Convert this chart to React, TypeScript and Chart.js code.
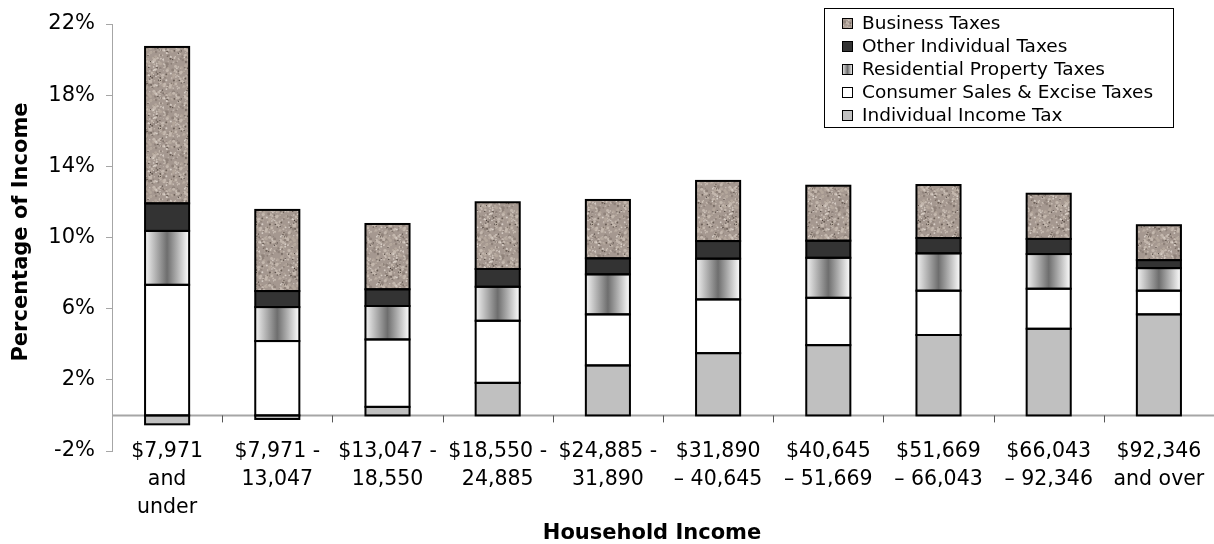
import React, { useEffect, useRef } from 'react';
import { Chart, registerables } from 'chart.js';

Chart.register(...registerables);

const categories: string[][] = [
  ['$7,971', 'and', 'under'],
  ['$7,971 -', '13,047'],
  ['$13,047 -', '18,550'],
  ['$18,550 -', '24,885'],
  ['$24,885 -', '31,890'],
  ['$31,890', '\u2013 40,645'],
  ['$40,645', '\u2013 51,669'],
  ['$51,669', '\u2013 66,043'],
  ['$66,043', '\u2013 92,346'],
  ['$92,346', 'and over'],
];

const individualIncomeTax = [-0.5, -0.2, 0.48, 1.83, 2.81, 3.5, 3.95, 4.52, 4.87, 5.68];
const consumerSalesExcise = [7.34, 4.18, 3.79, 3.49, 2.87, 3.02, 2.66, 2.49, 2.25, 1.33];
const residentialProperty = [3.03, 1.91, 1.88, 1.91, 2.25, 2.29, 2.25, 2.1, 1.95, 1.27];
const otherIndividual = [1.55, 0.9, 0.94, 1.0, 0.9, 0.99, 0.96, 0.86, 0.85, 0.45];
const businessTaxes = [8.79, 4.56, 3.67, 3.75, 3.28, 3.38, 3.09, 2.98, 2.54, 1.96];

const yMin = -2;
const yMax = 22;
const yStep = 4;

const FONT = '"DejaVu Sans", Verdana, sans-serif';

function makeGranite(): CanvasPattern | string {
  const size = 48;
  const c = document.createElement('canvas');
  c.width = size;
  c.height = size;
  const g = c.getContext('2d');
  if (!g) return '#a69a90';
  g.fillStyle = '#a59890';
  g.fillRect(0, 0, size, size);
  let s = 424242;
  const rnd = () => {
    s = (s * 1103515245 + 12345) & 0x7fffffff;
    return s / 0x7fffffff;
  };
  const blob = (x: number, y: number, r: number) => {
    for (const dx of [-size, 0, size]) {
      for (const dy of [-size, 0, size]) {
        g.beginPath();
        g.arc(x + dx, y + dy, r, 0, Math.PI * 2);
        g.fill();
      }
    }
  };
  for (let i = 0; i < 260; i++) {
    const x = rnd() * size, y = rnd() * size, r = 0.5 + rnd() * 1.1;
    const t = rnd();
    g.fillStyle = t < 0.5 ? '#c4b8ae' : t < 0.8 ? '#b4a79c' : '#8f827a';
    blob(x, y, r);
  }
  for (let i = 0; i < 90; i++) {
    const x = rnd() * size, y = rnd() * size, r = 0.4 + rnd() * 0.7;
    g.fillStyle = rnd() < 0.7 ? '#d8cfc7' : '#6a5e56';
    blob(x, y, r);
  }
  for (let i = 0; i < 26; i++) {
    const x = rnd() * size, y = rnd() * size;
    g.fillStyle = '#4a403a';
    blob(x, y, 0.6);
  }
  return g.createPattern(c, 'repeat') || '#a69a90';
}

function residentialGradient(ctx2d: CanvasRenderingContext2D, x0: number, x1: number) {
  const gr = ctx2d.createLinearGradient(x0, 0, x1, 0);
  gr.addColorStop(0, '#f2f2f2');
  gr.addColorStop(0.5, '#6e6e6e');
  gr.addColorStop(1, '#ffffff');
  return gr;
}

export default function App() {
  const ref = useRef<HTMLCanvasElement | null>(null);

  useEffect(() => {
    if (!ref.current) return;
    const granite = makeGranite();
    const barFrac = 0.4;

    const resBg = (c: any) => {
      const chart = c.chart;
      const xs = chart.scales && chart.scales.x;
      if (!xs || c.dataIndex === undefined) return '#999999';
      const cx = xs.getPixelForValue(c.dataIndex);
      const w = (xs.width / categories.length) * barFrac;
      if (!isFinite(cx) || !isFinite(w) || w <= 0) return '#999999';
      return residentialGradient(chart.ctx, cx - w / 2, cx + w / 2);
    };

    const decor = {
      id: 'decor',
      beforeDatasetsDraw(chart: any) {
        const { ctx, chartArea, scales } = chart;
        const y0 = scales.y.getPixelForValue(0);
        ctx.save();
        ctx.strokeStyle = '#a6a6a6';
        ctx.lineWidth = 2;
        ctx.beginPath();
        ctx.moveTo(chartArea.left, y0);
        ctx.lineTo(chartArea.right, y0);
        ctx.stroke();
        ctx.strokeStyle = '#555555';
        ctx.lineWidth = 1;
        const n = categories.length;
        const step = (chartArea.right - chartArea.left) / n;
        ctx.beginPath();
        for (let i = 1; i < n; i++) {
          const x = Math.round(chartArea.left + i * step) + 0.5;
          ctx.moveTo(x, y0);
          ctx.lineTo(x, y0 + 7);
        }
        ctx.stroke();
        ctx.restore();
      },
      afterDatasetsDraw(chart: any) {
        const { ctx } = chart;
        ctx.save();
        ctx.strokeStyle = '#000';
        ctx.lineWidth = 2;
        chart.data.datasets.forEach((_ds: any, i: number) => {
          const meta = chart.getDatasetMeta(i);
          meta.data.forEach((el: any) => {
            const p = el.getProps(['x', 'y', 'base', 'width'], true);
            const top = Math.min(p.y, p.base);
            const h = Math.abs(p.base - p.y);
            ctx.strokeRect(p.x - p.width / 2, top, p.width, h);
          });
        });
        ctx.restore();
      },
      afterDraw(chart: any) {
        const { ctx, chartArea, scales } = chart;
        ctx.save();
        ctx.fillStyle = '#000';
        ctx.font = `20.5px ${FONT}`;
        ctx.textAlign = 'center';
        ctx.textBaseline = 'middle';
        categories.forEach((lines, i) => {
          const x = scales.x.getPixelForValue(i);
          lines.forEach((ln, j) => {
            ctx.fillText(ln, x, chartArea.bottom + 1 + j * 28);
          });
        });
        ctx.restore();

        ctx.save();
        ctx.fillStyle = '#000';
        ctx.font = `bold 21px ${FONT}`;
        ctx.textAlign = 'center';
        ctx.textBaseline = 'middle';
        ctx.fillText('Household Income', 652, 534);
        ctx.translate(22, 232);
        ctx.rotate(-Math.PI / 2);
        ctx.fillText('Percentage of Income', 0, 0);
        ctx.restore();

        ctx.save();
        const lx = 824, ly = 8, lw = 349, lh = 119;
        ctx.fillStyle = '#ffffff';
        ctx.fillRect(lx, ly, lw, lh);
        ctx.strokeStyle = '#000';
        ctx.lineWidth = 1;
        ctx.strokeRect(lx + 0.5, ly + 0.5, lw, lh);
        const items: { label: string; fill: any }[] = [
          { label: 'Business Taxes', fill: granite },
          { label: 'Other Individual Taxes', fill: '#333333' },
          { label: 'Residential Property Taxes', fill: 'grad' },
          { label: 'Consumer Sales & Excise Taxes', fill: '#ffffff' },
          { label: 'Individual Income Tax', fill: '#c0c0c0' },
        ];
        ctx.font = `18.5px ${FONT}`;
        ctx.textAlign = 'left';
        ctx.textBaseline = 'middle';
        items.forEach((it, i) => {
          const cy = 23 + i * 23;
          const sx = 842, sy = Math.round(cy - 5), ss = 11;
          ctx.fillStyle = it.fill === 'grad' ? residentialGradient(ctx, sx, sx + ss) : it.fill;
          ctx.fillRect(sx, sy, ss, ss);
          ctx.strokeStyle = '#000';
          ctx.lineWidth = 1;
          ctx.strokeRect(sx + 0.5, sy + 0.5, ss - 1, ss - 1);
          ctx.fillStyle = '#000';
          ctx.fillText(it.label, 862, cy + 1);
        });
        ctx.restore();
      },
    };

    const common = {
      borderWidth: 0,
      barPercentage: barFrac,
      categoryPercentage: 1,
    };

    const chart = new Chart(ref.current, {
      type: 'bar',
      data: {
        labels: categories,
        datasets: [
          { label: 'Individual Income Tax', data: individualIncomeTax, backgroundColor: '#c0c0c0', ...common },
          { label: 'Consumer Sales & Excise Taxes', data: consumerSalesExcise, backgroundColor: '#ffffff', ...common },
          { label: 'Residential Property Taxes', data: residentialProperty, backgroundColor: resBg as any, ...common },
          { label: 'Other Individual Taxes', data: otherIndividual, backgroundColor: '#333333', ...common },
          { label: 'Business Taxes', data: businessTaxes, backgroundColor: granite as any, ...common },
        ],
      },
      options: {
        responsive: false,
        animation: false,
        layout: { padding: { top: 24, left: 0, right: 0, bottom: 0 } },
        plugins: {
          legend: { display: false },
          tooltip: { enabled: false },
          title: { display: false },
        },
        scales: {
          x: {
            stacked: true,
            grid: { display: false, drawTicks: false },
            border: { display: false },
            ticks: { display: false },
            afterFit: (s: any) => {
              s.height = 93;
            },
          },
          y: {
            stacked: true,
            min: yMin,
            max: yMax,
            grid: {
              display: true,
              drawOnChartArea: false,
              drawTicks: true,
              tickLength: 6,
              color: '#a6a6a6',
            },
            border: { display: true, color: '#a6a6a6', width: 1 },
            ticks: {
              stepSize: yStep,
              padding: 11,
              color: '#000',
              font: { family: FONT, size: 21 },
              callback: (v: any) => `${v}%`,
            },
            afterFit: (s: any) => {
              s.width = 112;
            },
          },
        },
      },
      plugins: [decor],
    });

    return () => chart.destroy();
  }, []);

  return (
    <div style={{ position: 'fixed', left: 0, top: 0, width: 1214, height: 544, background: '#fff' }}>
      <canvas ref={ref} width={1214} height={544} style={{ display: 'block', width: 1214, height: 544 }} />
    </div>
  );
}
